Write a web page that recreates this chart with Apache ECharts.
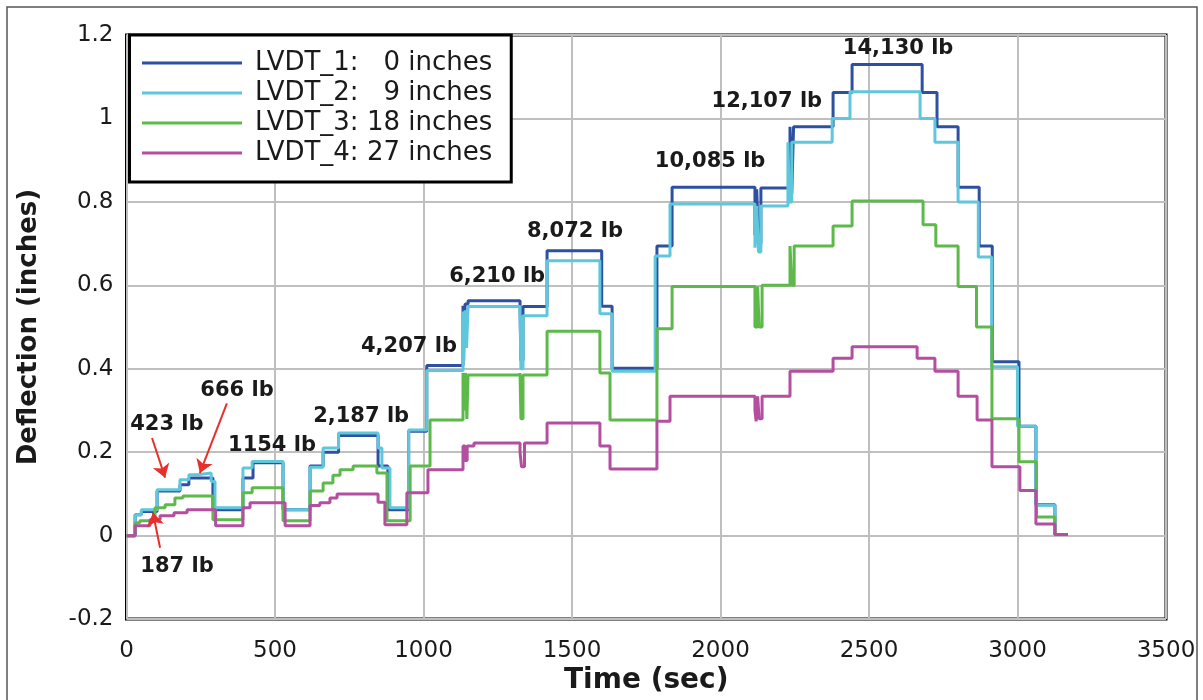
<!DOCTYPE html>
<html><head><meta charset="utf-8">
<script src="https://cdn.jsdelivr.net/npm/echarts/dist/echarts.min.js"></script>
<style>html,body{margin:0;padding:0;background:#fff}#c{width:1203px;height:700px}</style>
</head><body><div id="c"></div>
<script>
// ---- DATA (time in sec, deflection in inches; each point = level starting at that time) ----
const seriesNames = ['LVDT_1:   0 inches', 'LVDT_2:   9 inches', 'LVDT_3: 18 inches', 'LVDT_4: 27 inches'];
const seriesColors = ['#2E50A3', '#5FC7DC', '#5DB94A', '#B44EA0'];

const lvdt1 = [[0,0],[29,0.05],[50,0.058],[103,0.107],[180,0.122],[210,0.138],[291,0.062],[392,0.138],[426,0.175],[527,0.062],[618,0.167],[662,0.2],[714,0.24],[847,0.167],[880,0.062],[950,0.25],[1011,0.408],[1133,0.551],[1136,0.45],[1140,0.555],[1150,0.563],[1325,0.55],[1328,0.42],[1335,0.549],[1416,0.683],[1600,0.55],[1635,0.401],[1786,0.694],[1837,0.835],[2116,0.72],[2122,0.83],[2128,0.7],[2136,0.833],[2234,0.98],[2240,0.82],[2246,0.98],[2379,1.062],[2443,1.129],[2679,1.062],[2729,0.98],[2800,0.835],[2871,0.694],[2915,0.417],[3005,0.262],[3062,0.074],[3126,0.003],[3170,0.003]];

const lvdt2 = [[0,0],[29,0.05],[50,0.062],[103,0.11],[180,0.134],[210,0.146],[240,0.15],[285,0.13],[298,0.067],[392,0.162],[423,0.178],[527,0.062],[618,0.164],[662,0.21],[714,0.246],[847,0.21],[860,0.162],[887,0.067],[950,0.253],[1011,0.396],[1133,0.537],[1136,0.42],[1140,0.54],[1145,0.45],[1150,0.549],[1325,0.53],[1328,0.4],[1335,0.527],[1416,0.659],[1594,0.532],[1635,0.394],[1780,0.67],[1830,0.795],[2116,0.69],[2122,0.79],[2128,0.68],[2136,0.79],[2227,0.943],[2232,0.8],[2240,0.943],[2376,1.0],[2436,1.064],[2672,1.0],[2722,0.943],[2800,0.8],[2868,0.668],[2913,0.405],[3000,0.262],[3062,0.073],[3126,0.003],[3170,0.003]];

const lvdt3 = [[0,0],[29,0.031],[45,0.036],[96,0.067],[130,0.074],[163,0.09],[190,0.095],[291,0.038],[392,0.103],[423,0.115],[527,0.036],[618,0.107],[662,0.126],[695,0.145],[719,0.158],[763,0.167],[843,0.15],[877,0.036],[955,0.167],[1022,0.277],[1133,0.39],[1136,0.3],[1142,0.39],[1146,0.28],[1150,0.385],[1325,0.39],[1328,0.28],[1335,0.385],[1416,0.49],[1594,0.39],[1628,0.277],[1786,0.496],[1837,0.597],[2116,0.5],[2125,0.597],[2130,0.5],[2140,0.6],[2234,0.694],[2240,0.6],[2248,0.694],[2379,0.742],[2443,0.802],[2682,0.745],[2725,0.694],[2800,0.597],[2862,0.5],[2914,0.28],[3005,0.177],[3064,0.045],[3126,0.003],[3168,0.003]];

const lvdt4 = [[0,0],[29,0.024],[79,0.038],[113,0.048],[160,0.055],[204,0.062],[300,0.024],[392,0.067],[416,0.079],[534,0.024],[618,0.072],[651,0.079],[685,0.09],[709,0.1],[847,0.08],[870,0.026],[944,0.103],[1015,0.158],[1133,0.215],[1140,0.18],[1147,0.215],[1170,0.222],[1325,0.2],[1330,0.165],[1340,0.222],[1416,0.27],[1594,0.215],[1628,0.16],[1786,0.274],[1830,0.334],[2116,0.3],[2120,0.274],[2125,0.334],[2130,0.28],[2140,0.334],[2234,0.394],[2379,0.425],[2443,0.453],[2662,0.425],[2722,0.394],[2800,0.334],[2864,0.277],[2914,0.165],[3008,0.108],[3062,0.028],[3126,0.003],[3170,0.003]];

// load annotations (text, time, deflection)
const annText = ['14,130 lb','12,107 lb','10,085 lb','8,072 lb','6,210 lb','4,207 lb','2,187 lb','1154 lb','666 lb','423 lb','187 lb'];
const annT = [2598, 2156, 1965, 1510, 1248, 951, 790, 490, 372, 136, 170];
const annV = [1.167, 1.041, 0.897, 0.728, 0.62, 0.453, 0.286, 0.217, 0.348, 0.267, -0.074];
// arrows [fromT, fromV, toT, toV]
const arrows = [[86,0.234,130,0.139],[338,0.317,247,0.150],[113,-0.029,89,0.055]];

const xTicks = {min: 0, max: 3500, interval: 500};
const yTicks = {min: -0.2, max: 1.2, interval: 0.2};

// ---- CHART ----
const chart = echarts.init(document.getElementById('c'), null, {renderer: 'canvas'});
const allData = [lvdt1, lvdt2, lvdt3, lvdt4];
const lineSeries = allData.map((d, i) => ({
  name: seriesNames[i], type: 'line', step: 'end', data: d, showSymbol: false, symbol: 'none',
  lineStyle: {color: seriesColors[i], width: 3}, itemStyle: {color: seriesColors[i]},
  emphasis: {disabled: true}, silent: true, z: 2
}));

const annSeries = {
  name: 'annotations', type: 'scatter', symbolSize: 0, silent: true, z: 5,
  itemStyle: {opacity: 1, color: '#1a1a1a'},
  data: annText.map((t, i) => ({name: t, value: [annT[i], annV[i]]})),
  label: {show: true, position: 'inside', formatter: '{b}', color: '#1a1a1a', opacity: 1,
          fontFamily: 'DejaVu Sans', fontWeight: 'bold', fontSize: 21},
  emphasis: {disabled: true},
  markLine: {
    silent: true, symbol: ['none', 'arrow'], symbolSize: 13, animation: false,
    label: {show: false}, emphasis: {disabled: true},
    lineStyle: {color: '#E8302A', width: 2, type: 'solid', opacity: 1},
    data: arrows.map(a => [{coord: [a[0], a[1]]}, {coord: [a[2], a[3]]}])
  }
};

const axisFont = {fontFamily: 'DejaVu Sans', fontSize: 23, color: '#1a1a1a'};

chart.setOption({
  animation: false,
  backgroundColor: '#fff',
  grid: {left: 126.5, right: 37, top: 35, bottom: 78, show: true, borderColor: '#000', borderWidth: 3, backgroundColor: 'transparent'},
  xAxis: {
    type: 'value', min: xTicks.min, max: xTicks.max, interval: xTicks.interval,
    name: 'Time (sec)', nameLocation: 'middle', nameGap: 44,
    nameTextStyle: {fontFamily: 'DejaVu Sans', fontWeight: 'bold', fontSize: 28, color: '#1a1a1a'},
    axisLine: {show: false}, axisTick: {show: false},
    axisLabel: Object.assign({margin: 20, formatter: v => String(v)}, axisFont),
    splitLine: {show: true, lineStyle: {color: '#BFBFBF', width: 2}}
  },
  yAxis: {
    type: 'value', min: yTicks.min, max: yTicks.max, interval: yTicks.interval,
    name: 'Deflection (inches)', nameLocation: 'middle', nameGap: 84, nameRotate: 90,
    nameTextStyle: {fontFamily: 'DejaVu Sans', fontWeight: 'bold', fontSize: 26, color: '#1a1a1a'},
    axisLine: {show: false}, axisTick: {show: false},
    axisLabel: Object.assign({margin: 13}, axisFont),
    splitLine: {show: true, lineStyle: {color: '#BFBFBF', width: 2}}
  },
  legend: {
    data: seriesNames, orient: 'vertical', left: 129.5, top: 35,
    padding: [13, 19, 14, 12.5], itemGap: 0, itemWidth: 100, itemHeight: 3, icon: 'rect',
    backgroundColor: '#fff', borderColor: '#000', borderWidth: 3, borderRadius: 0,
    selectedMode: false,
    textStyle: {fontFamily: 'DejaVu Sans', fontSize: 26, color: '#1a1a1a', lineHeight: 30, padding: [0, 0, 0, 8]}
  },
  graphic: [{type: 'rect', silent: true, z: 100, shape: {x: 7, y: 7, width: 1190, height: 710},
             style: {fill: null, stroke: '#555', lineWidth: 1.5}}],
  series: lineSeries.concat([annSeries])
});
</script>
</body></html>
